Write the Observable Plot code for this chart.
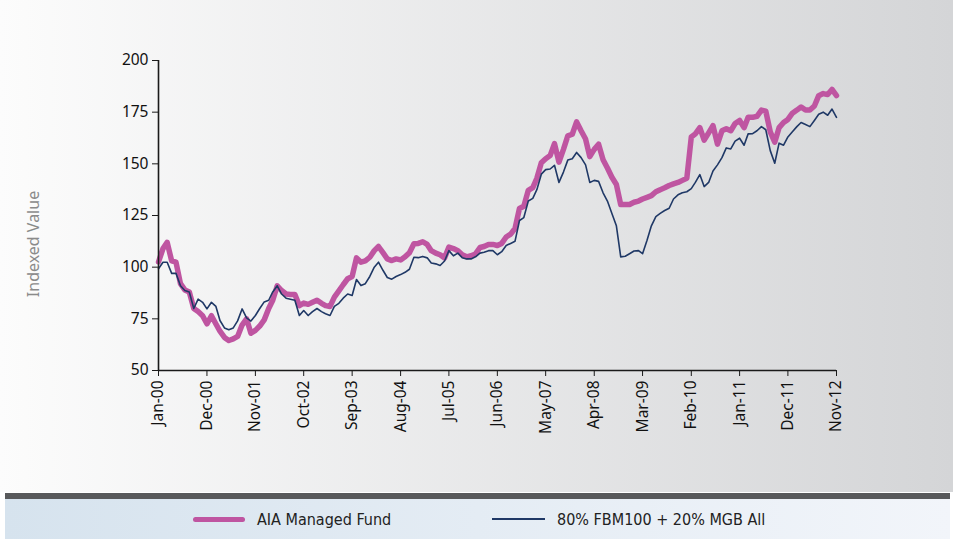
<!DOCTYPE html>
<html><head><meta charset="utf-8">
<script src="https://cdn.jsdelivr.net/npm/d3@7"></script>
<script src="https://cdn.jsdelivr.net/npm/@observablehq/plot@0.6"></script>
<style>
body{margin:0;background:#fff;}
#wrap{position:relative;width:953px;height:539px;overflow:hidden;font-family:"Noto Sans",sans-serif;}
#bg{position:absolute;left:0;top:0;width:953px;height:492px;background:linear-gradient(to right,#fcfcfc,#d4d5d7);}
#chart{position:absolute;left:0;top:0;}
#ylab{position:absolute;left:33px;top:244px;transform:translate(-50%,-50%) rotate(-90deg);white-space:nowrap;font-size:16px;color:#8a8a8a;}
#bar{position:absolute;left:5px;top:493px;width:945px;height:6px;background:#58595b;}
#legend{position:absolute;left:5px;top:499px;width:945px;height:40px;background:linear-gradient(to right,#d6e3ee,#f2f5fa);}
.item{position:absolute;top:0;height:40px;display:flex;align-items:center;font-family:"DejaVu Sans Condensed","DejaVu Sans",sans-serif;font-stretch:condensed;font-size:16px;color:#222;}
.sw{display:inline-block;margin-right:12px;}
</style></head>
<body>
<div id="wrap">
  <div id="bg"></div>
  <div id="chart"></div>
  <div id="ylab">Indexed Value</div>
  <div id="bar"></div>
  <div id="legend">
    <div class="item" style="left:188px"><span class="sw" style="width:52px;height:5px;border-radius:3px;background:#bf55a1"></span><span id="l1"></span></div>
    <div class="item" style="left:487px"><span class="sw" style="width:53px;height:2px;background:#1f3866"></span><span id="l2"></span></div>
  </div>
</div>
<script>
const seriesNames = ["AIA Managed Fund", "80% FBM100 + 20% MGB All"];
const startMonth = "2000-01";
const fundValues = [
102.5,109,112,103,102.4,92,89,88,80,78.5,
76.5,72.6,76.5,72.5,69,66,64.5,65.3,66.5,72,
75,68,69.4,71.5,74.5,80,84,91,88.7,87,
86.8,86.8,81.4,82.6,82,83,84,82.5,81.4,81,
85.5,88.5,91.5,94.4,95.5,104.5,102.4,103,104.8,108,
110,107,104,103.2,104,103.5,105,107,111.3,111.5,
112.3,111,108,106.8,106,104.5,109.7,109,108,106,
105,105.5,106.4,109.5,110,111,111,110.5,111.5,114.6,
116,118.7,128.4,129.5,137.2,138.5,143,150.5,152.5,154,
159.8,150.8,157,163.5,164.3,170.3,166,162,153.5,157,
159.5,152,148,143.5,140,130.3,130.3,130.3,131.4,132,
133,133.8,134.6,136.5,137.5,138.4,139.5,140.3,141,142,
143,163,164.5,167.5,161.5,165,168.5,159.5,166,167,
166,169.5,171,167.5,172.5,172.5,173,176,175.5,165.5,
160.5,167.5,170,171.5,174.5,176,177.5,176,176,178,
183,184,183.5,186,183
];
const benchValues = [
99.2,102.4,102.4,97,97,91,88.7,88,80,84.5,
83,79.8,83,81,74.2,70.6,69.7,70.6,74,79.8,
75.5,73.9,76.6,80,83.2,84,88,91,87,85,
84.5,84,76.6,79,76.6,78.5,80,78.5,77.5,76.6,
81,82.5,85,87,86.3,94,91.1,92,95.5,100,
102.4,98.5,95,94.2,95.5,96.4,97.5,99,104.8,104.6,
105.2,104.5,102,101.6,100.8,103,108,105.5,106.8,104.6,
104,104,105,106.8,107.2,108,108,106,107.5,110.5,
111.5,112.5,122.6,124,132,133.3,137.5,145,147.2,147.5,
149.3,141,146,151.8,152.5,155.5,153,149.5,141,142,
141.5,136,132,126,120,105,105.3,106.5,107.8,108,
106.5,113,120,124.5,126,127.4,128.5,133,135,136,
136.5,138,141,144.8,139,141,146.5,149.5,153,157.7,
157.2,161,162.4,159,164.5,164.6,166,168,166.5,156.4,
150.3,160,159,163,165.5,168,170,169,168,171,
174,175,173.5,176.5,172.5
];
const tickLabels = ["Jan-00","Dec-00","Nov-01","Oct-02","Sep-03","Aug-04","Jul-05","Jun-06","May-07","Apr-08","Mar-09","Feb-10","Jan-11","Dec-11","Nov-12"];
const yTicks = [50,75,100,125,150,175,200];

document.getElementById("l1").textContent = seriesNames[0];
document.getElementById("l2").textContent = seriesNames[1];

const start = d3.utcParse("%Y-%m")(startMonth);
const parseTick = d3.utcParse("%b-%y");
const tickDates = tickLabels.map(parseTick);
const fund = fundValues.map((v,i)=>({date:d3.utcMonth.offset(start,i), value:v}));
const bench = benchValues.map((v,i)=>({date:d3.utcMonth.offset(start,i), value:v}));
const xEnd = tickDates[tickDates.length-1];

const chart = Plot.plot({
  width: 953,
  height: 492,
  marginLeft: 158,
  marginRight: 117,
  marginTop: 60,
  marginBottom: 122,
  style: {background: "transparent", fontFamily: "'Noto Sans', sans-serif", fontSize: "15.5px", color: "#111"},
  x: {type: "utc", domain: [start, xEnd]},
  y: {domain: [50, 200]},
  marks: [
    Plot.line(fund, {x: "date", y: "value", stroke: "#bf55a1", strokeWidth: 5.5, strokeLinejoin: "round", strokeLinecap: "round"}),
    Plot.line(bench, {x: "date", y: "value", stroke: "#1f3866", strokeWidth: 1.6, strokeLinejoin: "round"}),
    Plot.ruleX([start], {y1: 50, y2: 200, stroke: "#1a1a1a", strokeWidth: 1.6}),
    Plot.ruleY([50], {x1: start, x2: xEnd, stroke: "#1a1a1a", strokeWidth: 1.6}),
    Plot.axisY({ticks: yTicks, tickSize: 6, tickPadding: 4, label: null, stroke: "#1a1a1a", fill: "#111"}),
    Plot.axisX({ticks: tickDates, tickFormat: d3.utcFormat("%b-%y"), tickRotate: -90, tickSize: 6, tickPadding: 4, label: null, stroke: "#1a1a1a", fill: "#111"})
  ]
});
document.getElementById("chart").appendChild(chart);
</script>
</body></html>
